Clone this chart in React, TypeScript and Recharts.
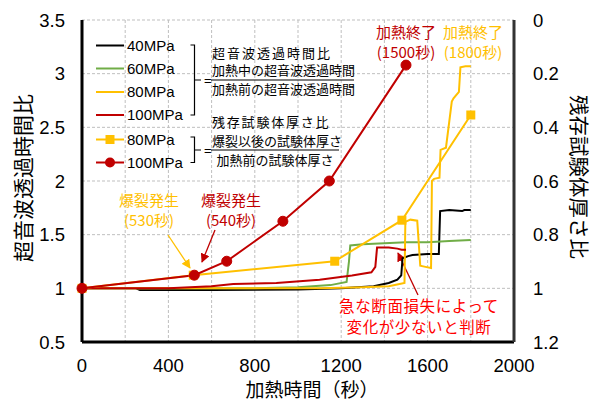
import { ComposedChart, Line, XAxis, YAxis, CartesianGrid, Customized } from "recharts"

// heating time ticks (grid every 200 s, labels every 400 s)
const timeTicks = [0, 200, 400, 600, 800, 1000, 1200, 1400, 1600, 1800, 2000]
const ratioTicks = [0.5, 1, 1.5, 2, 2.5, 3, 3.5]
const thicknessTicks = [0, 0.2, 0.4, 0.6, 0.8, 1, 1.2]

// ultrasonic transit time ratio [time(s), ratio]
const ratio40: [number, number][] = [
  [0, 1.0], [250, 1.0], [268, 0.985], [600, 0.985], [1000, 0.99], [1200, 1.0], [1350, 1.02],
  [1420, 1.05], [1460, 1.08], [1478, 1.12], [1484, 1.28], [1510, 1.3], [1530, 1.31],
  [1600, 1.32], [1652, 1.32], [1658, 1.72], [1700, 1.73], [1760, 1.72], [1770, 1.73], [1800, 1.73],
]
const ratio60: [number, number][] = [
  [0, 1.0], [400, 1.0], [800, 1.0], [1000, 1.01], [1150, 1.03], [1225, 1.06], [1236, 1.25],
  [1242, 1.4], [1300, 1.41], [1400, 1.42], [1500, 1.43], [1600, 1.43], [1700, 1.44], [1800, 1.45],
]
const ratio80: [number, number][] = [
  [0, 1.0], [400, 1.0], [800, 1.0], [1100, 1.0], [1300, 1.01], [1420, 1.02], [1470, 1.04],
  [1493, 1.05], [1497, 1.62], [1520, 1.64], [1552, 1.63], [1566, 1.21], [1590, 1.2], [1616, 1.19],
  [1620, 2.0], [1630, 2.02], [1655, 2.03], [1660, 2.29], [1685, 2.31], [1712, 2.74], [1720, 2.77],
  [1745, 2.83], [1752, 3.06], [1775, 3.07], [1800, 3.07],
]
const ratio100: [number, number][] = [
  [0, 1.0], [400, 1.0], [500, 1.01], [600, 1.02], [700, 1.04], [900, 1.05], [1100, 1.08],
  [1250, 1.12], [1340, 1.15], [1358, 1.2], [1366, 1.38], [1420, 1.38], [1460, 1.37],
  [1480, 1.36], [1500, 1.36],
]

// residual specimen thickness ratio [time(s), ratio]
const thickness80: [number, number][] = [[0, 1.0], [515, 0.951], [1170, 0.899], [1481, 0.746], [1800, 0.354]]
const thickness100: [number, number][] = [[0, 1.0], [520, 0.951], [670, 0.899], [930, 0.75], [1145, 0.6], [1500, 0.168]]

const toPoints = (rows: [number, number][]) => rows.map(([t, v]) => ({ t, v }))

const JP = "'Noto Sans CJK JP', sans-serif"
const NUM = "'Liberation Sans', Arial, sans-serif"
const YELLOW = "#ffc000"
const DARKRED = "#c00000"

const Square = (props: any) => {
  const { cx, cy, index } = props
  return <rect key={index} x={cx - 4.5} y={cy - 4.5} width={9} height={9} fill={YELLOW} />
}

function Overlay() {
  const rows = [
    { label: "40MPa", color: "#000000", y: 45.5 },
    { label: "60MPa", color: "#70ad47", y: 68.5 },
    { label: "80MPa", color: YELLOW, y: 92 },
    { label: "100MPa", color: DARKRED, y: 115 },
    { label: "80MPa", color: YELLOW, y: 139.5, mark: "square" },
    { label: "100MPa", color: DARKRED, y: 162.5, mark: "dot" },
  ]
  return (
    <g>
      <defs>
        <marker id="arrY" viewBox="0 0 10 10" refX="9" refY="5" markerWidth="7" markerHeight="7" orient="auto">
          <path d="M0,0 L10,5 L0,10 z" fill={YELLOW} />
        </marker>
        <marker id="arrR" viewBox="0 0 10 10" refX="9" refY="5" markerWidth="7" markerHeight="7" orient="auto">
          <path d="M0,0 L10,5 L0,10 z" fill={DARKRED} />
        </marker>
      </defs>
      {rows.map((r, i) => (
        <g key={i}>
          <line x1={96} x2={124} y1={r.y} y2={r.y} stroke={r.color} strokeWidth={2} />
          {r.mark === "square" && <rect x={105.5} y={r.y - 4.5} width={9} height={9} fill={r.color} />}
          {r.mark === "dot" && <circle cx={110} cy={r.y} r={5} fill={r.color} />}
          <text x={127} y={r.y} dy="0.36em" fontSize={15} fontFamily={NUM} fill="#000">{r.label}</text>
        </g>
      ))}
      {/* brackets */}
      <path d="M190.5,45 H194.5 V115 H190.5 M194.5,80 H201" fill="none" stroke="#000" strokeWidth={1.2} />
      <path d="M190.5,137 H194.5 V162.5 H190.5 M194.5,150 H201" fill="none" stroke="#000" strokeWidth={1.2} />
      <text x={204} y={80} dy="0.36em" fontSize={13} fontFamily={NUM}>=</text>
      <text x={204} y={150} dy="0.36em" fontSize={13} fontFamily={NUM}>=</text>
      <g fontFamily={JP} fontSize={13} fill="#000">
        <text x={212} y={53} dy="0.36em" letterSpacing={2}>超音波透過時間比</text>
        <text x={212} y={70.5} dy="0.36em">加熱中の超音波透過時間</text>
        <line x1={211} x2={354} y1={80} y2={80} stroke="#000" strokeWidth={1.2} />
        <text x={212} y={89.5} dy="0.36em">加熱前の超音波透過時間</text>
        <text x={212} y={122} dy="0.36em" letterSpacing={1.8}>残存試験体厚さ比</text>
        <text x={212} y={141} dy="0.36em">爆裂以後の試験体厚さ</text>
        <line x1={211} x2={339} y1={150} y2={150} stroke="#000" strokeWidth={1.2} />
        <text x={275} y={160} dy="0.36em" textAnchor="middle">加熱前の試験体厚さ</text>
      </g>
      {/* annotations */}
      <g fontFamily={JP} fontSize={15} textAnchor="middle">
        <text x={406} y={33} dy="0.36em" fill={DARKRED}>加熱終了</text>
        <text x={406} y={53} dy="0.36em" fill={DARKRED}>(1500秒)</text>
        <text x={473} y={33} dy="0.36em" fill={YELLOW}>加熱終了</text>
        <text x={473} y={53} dy="0.36em" fill={YELLOW}>(1800秒)</text>
        <text x={149} y={201} dy="0.36em" fill={YELLOW}>爆裂発生</text>
        <text x={149} y={221} dy="0.36em" fill={YELLOW}>(530秒)</text>
        <text x={231} y={201} dy="0.36em" fill={DARKRED}>爆裂発生</text>
        <text x={231} y={221} dy="0.36em" fill={DARKRED}>(540秒)</text>
        <text x={419} y={306} dy="0.36em" fill="#ff0000" fontSize={15.5} letterSpacing={0.6}>急な断面損失によって</text>
        <text x={419} y={327} dy="0.36em" fill="#ff0000" fontSize={15.5} letterSpacing={0.6}>変化が少ないと判断</text>
      </g>
      <line x1={168} y1={235} x2={190} y2={268} stroke={YELLOW} strokeWidth={1.3} markerEnd="url(#arrY)" />
      <line x1={215} y1={230} x2={202} y2={262} stroke={DARKRED} strokeWidth={1.3} markerEnd="url(#arrR)" />
      <line x1={418} y1={295} x2={398} y2={253} stroke={DARKRED} strokeWidth={1.3} markerEnd="url(#arrR)" />
    </g>
  )
}

export default function App() {
  return (
    <div style={{ position: "absolute", left: 0, top: 0, background: "#fff" }}>
      <ComposedChart width={594} height={403} margin={{ top: 20, right: 0, bottom: 0, left: 0 }} style={{ fontFamily: NUM }}>
        <CartesianGrid yAxisId="left" strokeDasharray="3 2" stroke="#bfbfbf" />
        <XAxis
          dataKey="t"
          type="number"
          domain={[0, 2000]}
          ticks={timeTicks}
          interval={0}
          tickFormatter={(v) => (v % 400 === 0 ? String(v) : "")}
          tickLine={false}
          tickMargin={11}
          height={61}
          tick={{ fontSize: 18.5, fill: "#000" }}
          axisLine={{ stroke: "#000", strokeWidth: 3 }}
          label={{
            content: () => (
              <text x={312} y={390} dy="0.36em" textAnchor="middle" fontSize={19} fontFamily={JP} fill="#000">
                加熱時間（秒）
              </text>
            ),
          }}
        />
        <XAxis xAxisId="top" orientation="top" type="number" domain={[0, 2000]} height={0} tick={false} tickLine={false} axisLine={{ stroke: "#000", strokeWidth: 2 }} />
        <YAxis
          yAxisId="left"
          type="number"
          domain={[0.5, 3.5]}
          ticks={ratioTicks}
          interval={0}
          width={82}
          tickLine={false}
          tickMargin={11}
          tick={{ fontSize: 18.5, fill: "#000" }}
          axisLine={{ stroke: "#000", strokeWidth: 3 }}
          label={{
            content: () => (
              <text x={23} y={178} dy="0.36em" textAnchor="middle" fontSize={21} fontFamily={JP} fill="#000" transform="rotate(-90 23 178)">
                超音波透過時間比
              </text>
            ),
          }}
        />
        <YAxis
          yAxisId="right"
          orientation="right"
          type="number"
          domain={[0, 1.2]}
          reversed
          ticks={thicknessTicks}
          interval={0}
          width={80}
          tickLine={false}
          tickMargin={13}
          tick={{ fontSize: 18.5, fill: "#000" }}
          axisLine={{ stroke: "#333", strokeWidth: 3 }}
          label={{
            content: () => (
              <text x={578} y={177} dy="0.36em" textAnchor="middle" fontSize={20.5} fontFamily={JP} fill="#000" transform="rotate(90 578 177)">
                残存試験体厚さ比
              </text>
            ),
          }}
        />
        <Line yAxisId="left" data={toPoints(ratio40)} dataKey="v" type="linear" stroke="#000000" strokeWidth={2} dot={false} isAnimationActive={false} />
        <Line yAxisId="left" data={toPoints(ratio60)} dataKey="v" type="linear" stroke="#70ad47" strokeWidth={2} dot={false} isAnimationActive={false} />
        <Line yAxisId="left" data={toPoints(ratio80)} dataKey="v" type="linear" stroke={YELLOW} strokeWidth={2} dot={false} isAnimationActive={false} />
        <Line yAxisId="left" data={toPoints(ratio100)} dataKey="v" type="linear" stroke={DARKRED} strokeWidth={2} dot={false} isAnimationActive={false} />
        <Line yAxisId="right" data={toPoints(thickness80)} dataKey="v" type="linear" stroke={YELLOW} strokeWidth={2} dot={Square} isAnimationActive={false} />
        <Line yAxisId="right" data={toPoints(thickness100)} dataKey="v" type="linear" stroke={DARKRED} strokeWidth={2} dot={{ r: 5, fill: DARKRED, stroke: DARKRED, strokeWidth: 1 }} isAnimationActive={false} />
        <Customized component={<Overlay />} />
      </ComposedChart>
    </div>
  )
}
